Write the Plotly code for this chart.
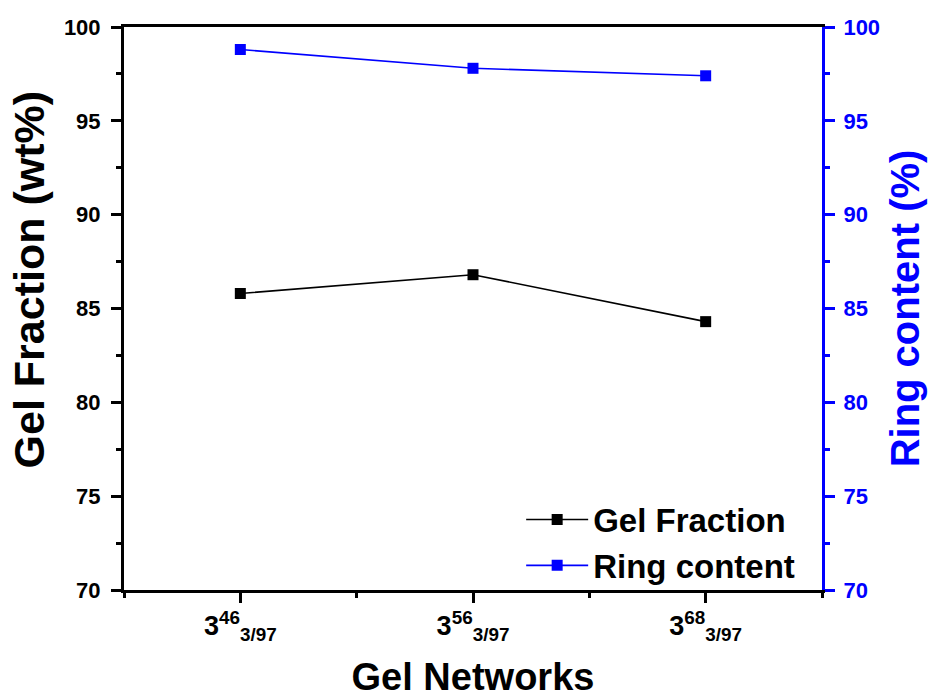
import plotly.graph_objects as go

# Gel network samples and measured values
networks = ["3<sup>46</sup><sub>3/97</sub>",
            "3<sup>56</sup><sub>3/97</sub>",
            "3<sup>68</sup><sub>3/97</sub>"]
x_pos = [0, 1, 2]
gel_fraction = [85.8, 86.8, 84.3]      # wt%
ring_content = [98.8, 97.8, 97.4]      # %

FONT = "Liberation Sans, Arial, sans-serif"
BLUE = "#0000FF"

fig = go.Figure()
fig.add_trace(go.Scatter(
    x=x_pos, y=gel_fraction, name="Gel Fraction", mode="lines+markers",
    line=dict(color="black", width=1.6),
    marker=dict(symbol="square", size=11, color="black"),
    yaxis="y"))
fig.add_trace(go.Scatter(
    x=x_pos, y=ring_content, name="Ring content", mode="lines+markers",
    line=dict(color=BLUE, width=1.6),
    marker=dict(symbol="square", size=11, color=BLUE),
    yaxis="y2"))

fig.update_layout(
    width=933, height=698,
    margin=dict(l=124, r=111, t=27, b=108),
    paper_bgcolor="white", plot_bgcolor="white",
    showlegend=True,
    legend=dict(x=0.569, y=0.175, xanchor="left", yanchor="top",
                bgcolor="rgba(0,0,0,0)", itemwidth=62,
                font=dict(family=FONT, size=33, color="black", weight="bold"),
                tracegroupgap=0),
    xaxis=dict(
        range=[-0.5, 2.5], tickvals=x_pos, ticktext=networks,
        automargin=False,
        showgrid=False, zeroline=False,
        showline=True, linecolor="black", linewidth=3, mirror=True,
        ticks="outside", ticklen=10, tickwidth=3, tickcolor="black",
        tickfont=dict(family=FONT, size=27, color="black", weight="bold"),
        minor=dict(tickvals=[-0.5, 0.5, 1.5, 2.5], ticks="outside", ticklen=5,
                   tickwidth=3, tickcolor="black", showgrid=False),
        title=dict(text="Gel Networks", standoff=24,
                   font=dict(family=FONT, size=38, color="black", weight="bold")),
    ),
    yaxis=dict(
        range=[70, 100], dtick=5, tick0=70,
        automargin=False,
        showgrid=False, zeroline=False,
        showline=True, linecolor="black", linewidth=3, mirror=False,
        ticks="outside", ticklen=10, tickwidth=3, tickcolor="black",
        ticklabelstandoff=6,
        tickfont=dict(family=FONT, size=22, color="black", weight="bold"),
        minor=dict(dtick=2.5, ticks="outside", ticklen=5, tickwidth=3,
                   tickcolor="black", showgrid=False),
    ),
    yaxis2=dict(
        range=[70, 100], dtick=5, tick0=70, overlaying="y", side="right",
        automargin=False,
        showgrid=False, zeroline=False,
        showline=True, linecolor=BLUE, linewidth=3,
        ticks="outside", ticklen=10, tickwidth=3, tickcolor=BLUE,
        ticklabelstandoff=4,
        tickfont=dict(family=FONT, size=22, color=BLUE, weight="bold"),
        minor=dict(dtick=2.5, ticks="outside", ticklen=5, tickwidth=3,
                   tickcolor=BLUE, showgrid=False),
        title=dict(text="Ring content (%)", standoff=12,
                   font=dict(family=FONT, size=40, color=BLUE, weight="bold")),
    ),
    annotations=[dict(
        text="Gel Fraction (wt%)", textangle=-90,
        xref="paper", yref="paper", x=-0.136, y=0.55,
        xanchor="center", yanchor="middle", showarrow=False,
        font=dict(family=FONT, size=43, color="black", weight="bold"),
    )],
)

fig.write_html("out.html")
